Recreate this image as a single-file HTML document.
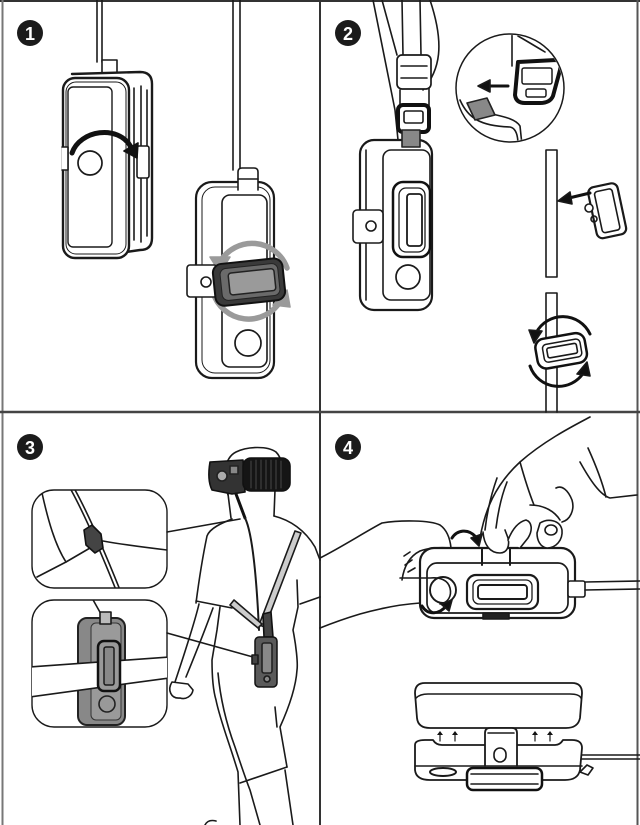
<!DOCTYPE html>
<html><head><meta charset="utf-8"><style>
html,body{margin:0;padding:0;background:#fff;}
svg{display:block}
</style></head><body>
<svg width="640" height="825" viewBox="0 0 640 825" xmlns="http://www.w3.org/2000/svg">
<defs>
<clipPath id="mag"><circle cx="510" cy="88" r="53"/></clipPath>
<clipPath id="m1"><rect x="32" y="490" width="135" height="98" rx="22"/></clipPath>
<clipPath id="m2"><rect x="32" y="600" width="135" height="127" rx="22"/></clipPath>
</defs>
<rect width="640" height="825" fill="#fff"/>
<g fill="none" stroke="#1a1a1a" stroke-width="1.6" stroke-linejoin="round" stroke-linecap="round">

<!-- frame -->
<line x1="0" y1="1" x2="640" y2="1" stroke="#333" stroke-width="2"/>
<line x1="2.5" y1="0" x2="2.5" y2="825" stroke="#777" stroke-width="2"/>
<line x1="637.5" y1="0" x2="637.5" y2="825" stroke="#555" stroke-width="2"/>
<line x1="320" y1="0" x2="320" y2="825" stroke="#333" stroke-width="2"/>
<line x1="0" y1="412" x2="640" y2="412" stroke="#444" stroke-width="2.5"/>

<!-- ===== Panel 1 ===== -->
<line x1="97" y1="0" x2="97" y2="62"/>
<line x1="102" y1="0" x2="102" y2="62"/>
<rect x="102" y="60" width="15" height="13" fill="#fff"/>
<path d="M72,74 L140,72 Q152,72 152,84 L152,238 Q152,250 140,250 L126,252" stroke-width="2.4" fill="#fff"/>
<line x1="134" y1="88" x2="134" y2="240"/>
<line x1="141" y1="86" x2="141" y2="242"/>
<line x1="147" y1="90" x2="147" y2="236"/>
<rect x="63" y="78" width="66" height="180" rx="12" stroke-width="2.4" fill="#fff"/>
<rect x="66" y="82" width="60" height="172" rx="10" stroke-width="1"/>
<rect x="68" y="87" width="44" height="160" rx="5" stroke-width="1.4"/>
<circle cx="90" cy="163" r="12" stroke-width="1.7"/>
<path d="M62,147 L68,147 L68,170 L62,170" fill="#fff"/>
<rect x="137" y="146" width="12" height="32" rx="2" fill="#fff"/>
<path d="M72,153 C80,130 118,124 131,147" stroke="#111" stroke-width="5"/>
<polygon points="124,151 138,143 137,158" fill="#111" stroke="#111"/>

<line x1="233" y1="0" x2="233" y2="170"/>
<line x1="240" y1="0" x2="240" y2="170"/>
<rect x="196" y="182" width="78" height="196" rx="16" stroke-width="2.2" fill="#fff"/>
<rect x="202" y="187" width="68" height="186" rx="13" stroke-width="1"/>
<path d="M238,190 L238,172 Q238,168 242,168 L254,168 Q258,168 258,172 L258,190" fill="#fff"/>
<line x1="238" y1="179" x2="258" y2="179"/>
<rect x="222" y="195" width="45" height="172" rx="8"/>
<circle cx="248" cy="343" r="13" stroke-width="1.7"/>
<path d="M220,262 A37,37 0 0 1 287,268" stroke="#9a9a9a" stroke-width="5.5"/>
<polygon points="210,257 230,257 220,273" fill="#9a9a9a" stroke="#9a9a9a"/>
<path d="M213,292 A37,37 0 0 0 281,300" stroke="#9a9a9a" stroke-width="5.5"/>
<polygon points="273,305 290,307 287,290" fill="#9a9a9a" stroke="#9a9a9a"/>
<rect x="187" y="265" width="30" height="32" rx="3" fill="#fff"/>
<circle cx="206" cy="282" r="5"/>
<g transform="rotate(-6 250 282)">
<rect x="214" y="261" width="70" height="42" rx="9" fill="#3a3a3a" stroke="#111" stroke-width="2"/>
<rect x="221" y="266" width="58" height="32" rx="6" fill="#6a6a6a" stroke="#222" stroke-width="1"/>
<rect x="229" y="271" width="46" height="22" rx="3" fill="#9a9a9a" stroke="#222" stroke-width="1.5"/>
</g>

<!-- ===== Panel 2 ===== -->
<path d="M373,0 L395,110 L398,140"/>
<path d="M382,0 L397,55"/>
<path d="M402,0 L403,55"/>
<path d="M420,0 L421,55"/>
<path d="M430,0 C445,45 440,70 423,90"/>
<line x1="400" y1="90" x2="400" y2="106"/>
<line x1="429" y1="88" x2="429" y2="106"/>
<rect x="397" y="55" width="34" height="34" rx="5" fill="#fff" stroke-width="1.7"/>
<line x1="401" y1="66" x2="427" y2="66"/>
<line x1="401" y1="78" x2="427" y2="78"/>
<rect x="398" y="105" width="31" height="27" rx="5" stroke="#111" stroke-width="4" fill="#fff"/>
<rect x="404" y="111" width="19" height="12" rx="2" fill="#fff"/>
<rect x="360" y="140" width="72" height="170" rx="14" stroke-width="2.2" fill="#fff"/>
<rect x="402" y="130" width="18" height="17" fill="#888" stroke="#222"/>
<line x1="366" y1="150" x2="366" y2="300"/>
<rect x="383" y="150" width="47" height="150" rx="8"/>
<rect x="393" y="182" width="37" height="75" rx="10" stroke="#111" stroke-width="2.5" fill="#fff"/>
<rect x="399" y="188" width="26" height="64" rx="7" stroke-width="1.3"/>
<rect x="407" y="194" width="15" height="52" rx="3" stroke-width="1.8"/>
<rect x="353" y="210" width="30" height="33" rx="4" fill="#fff"/>
<circle cx="371" cy="226" r="5"/>
<circle cx="408" cy="277" r="12" stroke-width="1.7"/>

<circle cx="510" cy="88" r="54" fill="#fff" stroke-width="1.5"/>
<g clip-path="url(#mag)">
<path d="M512,34 L512,66"/>
<path d="M518,36 C525,40 535,46 545,52"/>
<path d="M460,100 C468,118 480,126 510,127 C515,128 518,134 518,145"/>
<path d="M488,113 C500,116 515,118 520,126 L522,145"/>
<path d="M518,62 L556,60 Q562,62 560,70 L553,96 Q550,103 540,103 L525,103 Q516,103 515,95 Z" stroke="#111" stroke-width="4" fill="#fff"/>
<rect x="522" y="68" width="30" height="16" rx="2" stroke-width="1.5"/>
<rect x="526" y="89" width="20" height="8" rx="2" stroke-width="1.5"/>
<path d="M467,103 L487,98 L495,115 L475,120 Z" fill="#888" stroke="#222"/>
</g>
<line x1="490" y1="86" x2="508" y2="86" stroke="#111" stroke-width="3"/>
<polygon points="478,86 490,80 490,92" fill="#111"/>

<path d="M546,150 L546,277 M557,150 L557,277 M546,150 L557,150 M546,277 L557,277"/>
<path d="M546,293 L546,412 M557,293 L557,412 M546,293 L557,293"/>
<g transform="rotate(-12 606 210)">
<rect x="592" y="185" width="30" height="52" rx="6" stroke-width="2.2" fill="#fff"/>
<rect x="598" y="190" width="18" height="42" rx="3"/>
</g>
<circle cx="589" cy="208" r="4" fill="#fff"/>
<circle cx="594" cy="219" r="3"/>
<line x1="569" y1="198" x2="590" y2="193" stroke="#111" stroke-width="3"/>
<polygon points="558,201 570,192 572,204" fill="#111"/>
<path d="M536,333 A30,30 0 0 1 590,334" stroke="#111" stroke-width="3"/>
<polygon points="529,330 542,331 534,343" fill="#111"/>
<path d="M530,366 A30,30 0 0 0 584,372" stroke="#111" stroke-width="3"/>
<polygon points="577,374 590,376 587,362" fill="#111"/>
<g transform="rotate(-10 560 350)">
<rect x="536" y="336" width="50" height="30" rx="9" stroke="#111" stroke-width="2.5" fill="#fff"/>
<rect x="543" y="342" width="38" height="18" rx="4" stroke-width="1.5"/>
<rect x="547" y="346" width="30" height="10" rx="2"/>
</g>

<!-- ===== Panel 3 ===== -->
<rect x="32" y="490" width="135" height="98" rx="22" fill="#fff" stroke-width="1.4"/>
<g clip-path="url(#m1)">
<path d="M70,488 C85,515 100,550 116,590"/>
<path d="M74,488 C89,515 104,550 120,590"/>
<path d="M42,493 C48,520 55,545 66,562 L37,577"/>
<path d="M90,548 L66,562"/>
<path d="M103,541 C125,545 150,548 167,550"/>
<path d="M84,530 L92,525 L101,534 L103,548 L95,553 L86,545 Z" fill="#444" stroke="#111"/>
</g>
<rect x="32" y="600" width="135" height="127" rx="22" fill="#fff" stroke-width="1.4"/>
<g clip-path="url(#m2)">
<path d="M92,598 L101,614"/>
<rect x="78" y="618" width="47" height="107" rx="9" fill="#888" stroke="#222" stroke-width="2"/>
<rect x="91" y="623" width="30" height="97" rx="5" fill="#9a9a9a" stroke="#333" stroke-width="1"/>
<circle cx="107" cy="704" r="8" fill="#999" stroke="#222"/>
<rect x="100" y="612" width="11" height="12" fill="#bbb"/>
<polygon points="30,667 169,657 169,678 30,697" fill="#fff" stroke="none"/>
<line x1="30" y1="667" x2="169" y2="657"/>
<line x1="30" y1="697" x2="169" y2="678"/>
<rect x="98" y="641" width="22" height="50" rx="6" fill="#999" stroke="#111" stroke-width="2.5"/>
<rect x="104" y="647" width="10" height="38" rx="2" fill="#888" stroke-width="1.5"/>
</g>
<line x1="167" y1="532" x2="240" y2="519"/>
<line x1="167" y1="633" x2="253" y2="657"/>

<!-- person -->
<path d="M228,495 C222,478 224,458 236,452 C248,446 268,446 276,452 C282,458 284,470 282,480"/>
<path d="M228,494 L231,518"/>
<path d="M275,490 L274,516"/>
<path d="M210,462 L243,460 L245,492 L232,494 L212,490 Q207,480 210,462 Z" fill="#333" stroke="#111"/>
<circle cx="222" cy="476" r="5" fill="#aaa" stroke="#222"/>
<rect x="230" y="466" width="8" height="8" fill="#888" stroke="#222"/>
<rect x="243" y="458" width="47" height="33" rx="8" fill="#151515" stroke="#111"/>
<g stroke="#555" stroke-width="0.8">
<line x1="251" y1="461" x2="251" y2="488"/><line x1="256" y1="460" x2="256" y2="489"/><line x1="261" y1="460" x2="261" y2="489"/><line x1="266" y1="460" x2="266" y2="489"/><line x1="271" y1="460" x2="271" y2="489"/><line x1="276" y1="460" x2="276" y2="489"/><line x1="281" y1="461" x2="281" y2="488"/>
</g>
<path d="M236,494 L245,518" stroke="#111" stroke-width="3"/>
<path d="M245,518 C251,530 256,565 259,630" stroke-width="2"/>
<path d="M232,519 C222,523 210,528 207,536 C203,555 199,580 196,603"/>
<path d="M196,601 L232,608"/>
<path d="M199,604 C194,625 184,655 175,682"/>
<path d="M213,608 C205,630 195,655 186,677"/>
<path d="M172,682 C167,690 171,699 180,698 C186,700 192,696 193,690 L188,684 Z" fill="#fff"/>
<path d="M274,516 C290,520 305,530 315,547 L320,560"/>
<path d="M297,580 L298,607 L293,630 C296,645 298,663 297,670 C296,685 290,705 280,727 L287,767"/>
<path d="M300,604 L320,597"/>
<path d="M220,607 L217,630 L212,660 C212,675 213,690 216,700 C220,720 230,745 238,772 L240,825"/>
<path d="M218,673 C220,695 225,720 235,747 C240,762 246,780 250,790 L260,825"/>
<path d="M275,707 L277,727"/>
<path d="M240,783 L287,767"/>
<path d="M285,770 L293,825"/>
<path d="M205,825 Q208,819 216,821"/>
<polygon points="295,531 301,533 265,627 259,625" fill="#ccc"/>
<polygon points="230,605 234,600 262,624 258,628" fill="#ccc"/>
<path d="M263,614 L271,612 L273,637 L264,637 Z" fill="#444" stroke="#111"/>
<rect x="255" y="637" width="22" height="50" rx="4" fill="#5a5a5a" stroke="#111" stroke-width="1.5"/>
<rect x="262" y="643" width="10" height="30" rx="2" fill="#888" stroke="#222"/>
<circle cx="267" cy="679" r="3" fill="#888"/>
<rect x="252" y="655" width="6" height="9" fill="#444"/>

<!-- ===== Panel 4 ===== -->
<rect x="420" y="548" width="155" height="70" rx="14" stroke-width="2.2" fill="#fff"/>
<rect x="427" y="563" width="141" height="50" rx="10" stroke-width="1.7"/>
<line x1="482" y1="548" x2="482" y2="565" stroke-width="2"/>
<line x1="510" y1="548" x2="510" y2="565" stroke-width="2"/>
<rect x="467" y="575" width="71" height="34" rx="9" stroke-width="2.2"/>
<rect x="473" y="580" width="59" height="24" rx="6" stroke-width="1.3"/>
<rect x="478" y="585" width="49" height="14" rx="3" stroke-width="1.9"/>
<circle cx="443" cy="590" r="13" stroke-width="1.9"/>
<rect x="483" y="613" width="26" height="6" fill="#222"/>
<rect x="568" y="581" width="17" height="16" rx="2" fill="#fff"/>
<line x1="585" y1="582" x2="640" y2="581"/>
<line x1="585" y1="590" x2="640" y2="589"/>
<!-- left hand -->
<path d="M320,558 C340,548 365,532 382,523 C400,520 430,520 440,525 C447,530 450,538 451,548"/>
<path d="M320,628 C335,622 350,617 360,614 C385,607 405,604 420,603"/>
<path d="M402,580 C404,566 410,556 420,551 C428,548 440,547 450,548"/>
<path d="M400,578 L430,578 C440,577 448,580 450,588 C452,596 448,603 440,604"/>
<path d="M405,565 L412,560 M408,572 L415,568 M404,556 L410,552"/>
<path d="M422,606 C428,616 440,614 446,606" stroke="#111" stroke-width="3"/>
<polygon points="441,604 452,600 449,611" fill="#111"/>
<path d="M452,538 C457,530 468,528 476,537" stroke="#111" stroke-width="3"/>
<polygon points="471,538 482,534 479,546" fill="#111"/>
<!-- right hand -->
<path d="M480,538 C485,510 495,485 520,462 C545,440 575,425 590,417"/>
<path d="M580,462 C590,480 600,495 610,498 L637,495"/>
<path d="M588,448 C598,470 603,485 606,497"/>
<path d="M497,478 C491,495 487,512 485,530"/>
<path d="M507,482 C501,497 498,512 496,528"/>
<path d="M483,532 C484,545 490,553 500,553 C507,553 510,546 508,538 L505,530" fill="#fff"/>
<path d="M508,540 C512,530 518,522 526,520 C532,522 533,530 528,538 L520,548" fill="#fff"/>
<path d="M540,523 C548,518 560,520 562,530 C563,540 556,548 547,548 C540,547 537,540 537,533 Z" fill="#fff"/>
<ellipse cx="551" cy="530" rx="6" ry="5"/>
<path d="M530,505 C545,505 555,512 560,520"/>
<path d="M562,522 C570,520 575,510 572,500 C568,490 562,485 556,488"/>
<path d="M520,462 C525,480 530,495 534,505"/>
<!-- bottom assembly -->
<path d="M425,683 L572,683 Q582,683 582,693 L580,718 Q578,728 566,728 L430,728 Q418,728 417,718 L415,693 Q415,683 425,683 Z" stroke-width="1.8" fill="#fff"/>
<path d="M416,698 Q420,694 428,694 L570,694 Q579,694 581,698"/>
<g stroke-width="1.2">
<line x1="440" y1="741" x2="440" y2="734"/><line x1="455" y1="741" x2="455" y2="734"/><line x1="535" y1="741" x2="535" y2="734"/><line x1="550" y1="741" x2="550" y2="734"/>
</g>
<g fill="#111" stroke="none">
<polygon points="437,735 443,735 440,731"/><polygon points="452,735 458,735 455,731"/><polygon points="532,735 538,735 535,731"/><polygon points="547,735 553,735 550,731"/>
</g>
<path d="M415,745 Q415,740 425,740 L433,740 Q436,745 442,745 L555,745 Q560,745 563,740 L572,740 Q582,740 582,748 L580,770 Q578,780 565,780 L430,780 Q416,780 415,770 Z" stroke-width="1.8" fill="#fff"/>
<path d="M485,766 L485,733 Q485,728 490,728 L512,728 Q517,728 517,733 L517,766" fill="#fff" stroke-width="1.8"/>
<line x1="488" y1="733" x2="514" y2="733"/>
<rect x="494" y="748" width="12" height="14" rx="6"/>
<line x1="415" y1="766" x2="582" y2="766"/>
<ellipse cx="443" cy="772" rx="13" ry="4" stroke-width="2"/>
<rect x="467" y="768" width="75" height="22" rx="6" stroke="#111" stroke-width="2.5" fill="#fff"/>
<line x1="471" y1="774" x2="538" y2="774"/>
<line x1="471" y1="784" x2="538" y2="784"/>
<line x1="582" y1="755" x2="640" y2="755"/>
<line x1="582" y1="759" x2="640" y2="759"/>
<path d="M580,772 L587,765 L593,768 L588,775 Z"/>
</g>

<!-- number badges -->
<g font-family="Liberation Sans, sans-serif" font-weight="bold" font-size="18" fill="#fff" text-anchor="middle">
<circle cx="30" cy="33" r="13" fill="#1b1b1b"/><text x="30" y="40">1</text>
<circle cx="348" cy="33" r="13" fill="#1b1b1b"/><text x="348" y="40">2</text>
<circle cx="30" cy="447" r="13" fill="#1b1b1b"/><text x="30" y="454">3</text>
<circle cx="348" cy="447" r="13" fill="#1b1b1b"/><text x="348" y="454">4</text>
</g>
</svg>
</body></html>
